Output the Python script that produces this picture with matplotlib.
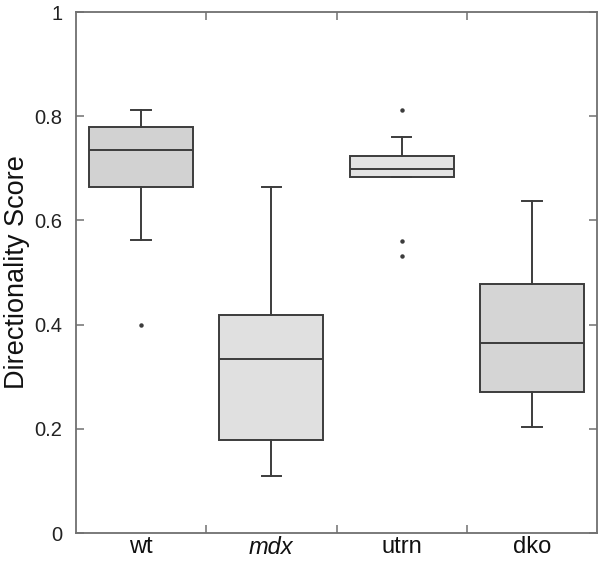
import numpy as np
import matplotlib
matplotlib.use('Agg')
import matplotlib.pyplot as plt

plt.rcParams['font.family'] = ['Liberation Sans', 'DejaVu Sans']

# box statistics
groups = ['wt', 'mdx', 'utrn', 'dko']
whislo = [0.562, 0.109, 0.684, 0.204]
q1 = [0.664, 0.178, 0.684, 0.271]
med = [0.735, 0.334, 0.699, 0.364]
q3 = [0.779, 0.418, 0.724, 0.477]
whishi = [0.812, 0.664, 0.761, 0.638]
fliers = [[0.400], [], [0.811, 0.560, 0.532], []]
fills = ['#d2d2d2', '#e0e0e0', '#e3e3e3', '#d5d5d5']

stats = []
for i in range(len(groups)):
    stats.append({'label': groups[i], 'whislo': whislo[i], 'q1': q1[i],
                  'med': med[i], 'q3': q3[i], 'whishi': whishi[i],
                  'fliers': fliers[i]})

edge = '#3c3c3c'
spine_col = '#707070'

fig = plt.figure(figsize=(6, 5.61), dpi=100)
ax = fig.add_axes([0.1267, 0.0499, 0.8683, 0.9287])

bp = ax.bxp(stats, positions=[1, 2, 3, 4], widths=0.8, patch_artist=True,
            showfliers=True,
            boxprops=dict(edgecolor=edge, linewidth=1.4),
            medianprops=dict(color=edge, linewidth=1.4),
            whiskerprops=dict(color=edge, linewidth=1.4),
            capprops=dict(color=edge, linewidth=1.4),
            capwidths=0.15,
            flierprops=dict(marker='o', markersize=2.2, markerfacecolor=edge,
                            markeredgecolor=edge, linestyle='none'))
for patch, c in zip(bp['boxes'], fills):
    patch.set_facecolor(c)

ax.set_xlim(0.5, 4.5)
ax.set_ylim(0, 1)

ax.set_yticks([0, 0.2, 0.4, 0.6, 0.8, 1.0])
ax.set_yticklabels(['0', '0.2', '0.4', '0.6', '0.8', '1'])
ax.tick_params(axis='y', direction='in', length=6, width=1.1, color=spine_col,
               labelsize=14.5, pad=10, right=True, labelcolor='#222222')

ax.set_xticks([1, 2, 3, 4])
ax.set_xticklabels(groups)
ax.get_xticklabels()[1].set_style('italic')
ax.tick_params(axis='x', which='major', length=0, labelsize=17, pad=2,
               labelcolor='#111111')
ax.set_xticks([1.5, 2.5, 3.5], minor=True)
ax.tick_params(axis='x', which='minor', direction='in', length=6, width=1.1,
               color=spine_col, top=True)

for s in ax.spines.values():
    s.set_color(spine_col)
    s.set_linewidth(1.3)

ax.set_ylabel('Directionality Score', fontsize=19.5, labelpad=3, color='#111111')

fig.savefig('out.png', dpi=100)
